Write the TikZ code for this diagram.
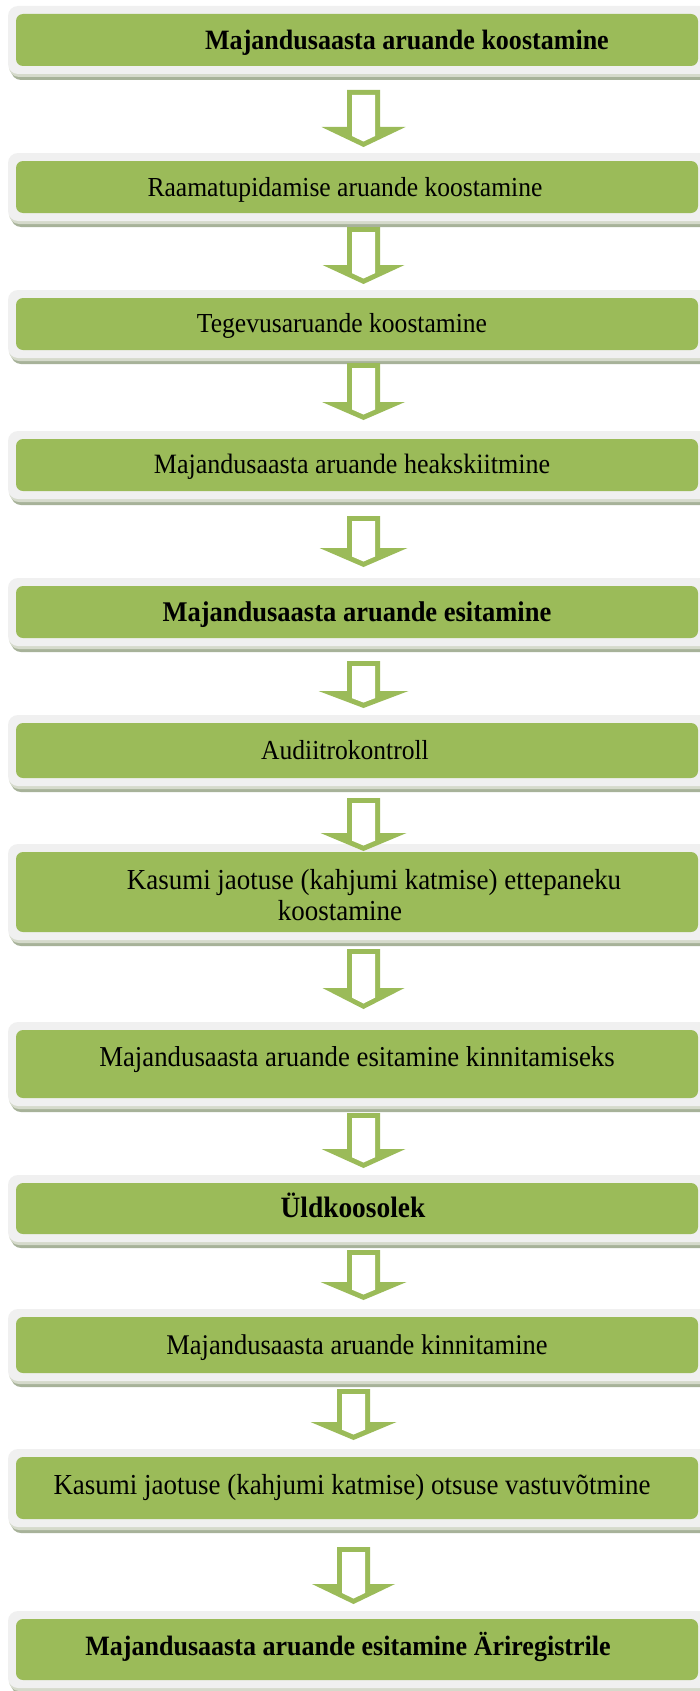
\documentclass[tikz,border=0pt]{standalone}
\usepackage{fontspec}
\setmainfont{Liberation Serif}[FakeStretch=0.93]
\definecolor{boxgreen}{HTML}{9BBB59}
\definecolor{framegray}{HTML}{F0F0F0}
\definecolor{shadowdark}{HTML}{A7B299}
\definecolor{shadowlight}{HTML}{D5DACB}
\tikzset{
  greenbox/.style={fill=boxgreen, rounded corners=7pt, inner sep=0pt, outer sep=0pt, minimum width=682pt},
  boxtext/.style={inner sep=0pt, anchor=base, font=\fontsize{#1}{31}\selectfont},
  boxtext/.default=28,
  framefill/.style={fill=framegray, rounded corners=10pt},
  shadowfill/.style={fill=shadowdark, rounded corners=10pt},
  shadowfilltwo/.style={fill=shadowlight, rounded corners=10pt},
  arrowouter/.style={fill=boxgreen},
  arrowinner/.style={fill=white}
}
% #1 name, #2 green top, #3 green bottom
\newcommand\flowbox[3]{%
  \fill[shadowfill] (11,#2-1) rectangle (712,#3+14);
  \fill[shadowfilltwo] (9,#2-5) rectangle (711,#3+11);
  \fill[framefill] (8,#2-8) rectangle (710,#3+8);
  \node[greenbox, minimum height={(#3-#2)*1pt}] (#1) at (357,{(#2+#3)/2}) {};
}
% #1 cx, #2 top, #3 head base, #4 tip, #5 head half width
\newcommand\blockarrow[5]{%
  \fill[arrowouter] (#1-16.5,#2) -- (#1+16.5,#2) -- (#1+16.5,#3) -- (#1+#5,#3)
     -- (#1,#4) -- (#1-#5,#3) -- (#1-16.5,#3) -- cycle;
  \fill[arrowinner] (#1-11.5,#2+5) -- (#1+11.5,#2+5)
     -- (#1+11.5,{#4-5.5-11.5*(#4-#3)/#5}) -- (#1,#4-5.5)
     -- (#1-11.5,{#4-5.5-11.5*(#4-#3)/#5}) -- cycle;
}
\begin{document}
\begin{tikzpicture}[x=1pt,y=-1pt]
\useasboundingbox (0,0) rectangle (700,1691);
\clip (0,0) rectangle (700,1691);
\fill[white] (0,0) rectangle (700,1691);

\flowbox{b1}{14}{66}
\flowbox{b2}{161}{213}
\flowbox{b3}{298}{350}
\flowbox{b4}{439}{491}
\flowbox{b5}{586}{638}
\flowbox{b6}{723}{778}
\flowbox{b7}{852}{932}
\flowbox{b8}{1030}{1098}
\flowbox{b9}{1183}{1234}
\flowbox{b10}{1317}{1373}
\flowbox{b11}{1457}{1519}
\flowbox{b12}{1619}{1680}

\node[boxtext] (t1) at (407,50) {\bfseries Majandusaasta aruande koostamine};
\node[boxtext=27.5] (t2) at (345,196) {Raamatupidamise aruande koostamine};
\node[boxtext=27.5] (t3) at (342,332) {Tegevusaruande koostamine};
\node[boxtext] (t4) at (352,473) {Majandusaasta aruande heakskiitmine};
\node[boxtext=28.5] (t5) at (357,621) {\bfseries Majandusaasta aruande esitamine};
\node[boxtext=27.5] (t6) at (345,759) {Audiitrokontroll};
\node[boxtext=29] (t7a) at (374,889) {Kasumi jaotuse (kahjumi katmise) ettepaneku};
\node[boxtext=29] (t7b) at (340,920) {koostamine};
\node[boxtext=28.8] (t8) at (357,1066) {Majandusaasta aruande esitamine kinnitamiseks};
\node[boxtext=29.5] (t9) at (353,1217) {\bfseries Üldkoosolek};
\node[boxtext=28.5] (t10) at (357,1354) {Majandusaasta aruande kinnitamine};
\node[boxtext=29] (t11) at (352,1494) {Kasumi jaotuse (kahjumi katmise) otsuse vastuvõtmine};
\node[boxtext] (t12) at (348,1655) {\bfseries Majandusaasta aruande esitamine Äriregistrile};

\blockarrow{363.5}{90}{127}{147}{42}
\blockarrow{363.5}{227}{265}{284}{41}
\blockarrow{363.5}{363}{402}{420}{41.5}
\blockarrow{363.5}{516}{548}{567}{44}
\blockarrow{363.5}{661}{691}{708}{45}
\blockarrow{363.5}{798}{833}{851}{43}
\blockarrow{363.5}{949}{988}{1009}{41}
\blockarrow{363.5}{1113}{1149}{1168}{42}
\blockarrow{363.5}{1250}{1282}{1300}{43}
\blockarrow{353.5}{1389}{1422}{1440}{43}
\blockarrow{353.5}{1547}{1584}{1604}{41.5}
\end{tikzpicture}
\end{document}
